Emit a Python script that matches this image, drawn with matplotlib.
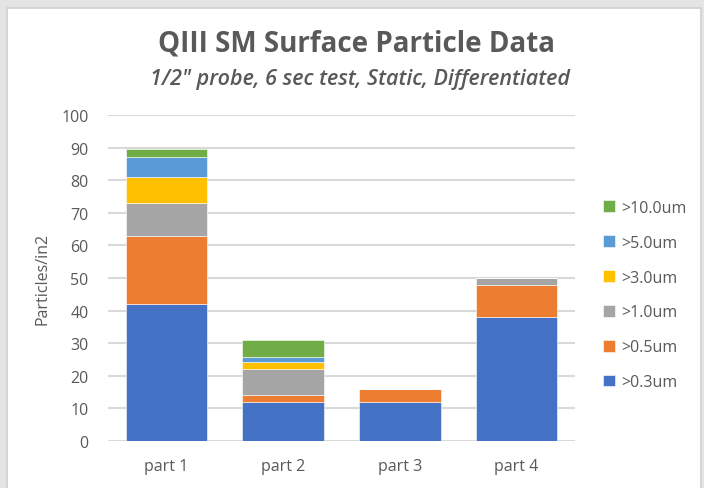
import matplotlib
matplotlib.use("Agg")
import matplotlib.pyplot as plt
from matplotlib.patches import Rectangle
import numpy as np

parts = ["part 1", "part 2", "part 3", "part 4"]
sizes = [">0.3um", ">0.5um", ">1.0um", ">3.0um", ">5.0um", ">10.0um"]
# differentiated counts per size bin (stacked bottom -> top)
p03 = [42, 12, 12, 38]
p05 = [21, 2, 4, 10]
p10 = [10, 8, 0, 2]
p30 = [8, 2.3, 0, 0]
p50 = [6, 1.6, 0, 0]
p100 = [2.5, 5, 0, 0]
colors = ["#4472C4", "#ED7D31", "#A5A5A5", "#FFC000", "#5B9BD5", "#70AD47"]
yticks = np.arange(0, 101, 10)

grey = "#595959"
plt.rcParams["font.family"] = ["Open Sans", "DejaVu Sans"]

fig = plt.figure(figsize=(7.04, 4.89), dpi=100)
fig.patch.set_facecolor("#e4e4e4")
fig.patches.append(Rectangle((7 / 704, -0.01), 694 / 704, 480 / 489 + 0.01, transform=fig.transFigure,
                             facecolor="white", edgecolor="#d0d0d0", linewidth=1.2, zorder=-5))

ax = fig.add_axes([108 / 704, 47 / 489, 467 / 704, 326 / 489])
ax.set_facecolor("white")

x = np.arange(len(parts))
bottom = np.zeros(len(parts))
for label, vals, c in zip(sizes, [p03, p05, p10, p30, p50, p100], colors):
    ax.bar(x, vals, width=0.70, bottom=bottom, color=c, label=label,
           edgecolor="white", linewidth=0.4, zorder=3)
    bottom += np.array(vals)

ax.set_xlim(-0.5, 3.5)
ax.set_ylim(0, 100)
ax.set_yticks(yticks)
ax.set_xticks(x)
ax.set_xticklabels(parts)
ax.grid(axis="y", color="#d9d9d9", linewidth=1.5, zorder=0)
ax.set_axisbelow(True)
for s in ax.spines.values():
    s.set_visible(False)
ax.tick_params(axis="both", length=0, labelsize=11.5, colors=grey)
ax.tick_params(axis="y", pad=14)
ax.tick_params(axis="x", pad=12)
ax.set_ylabel("Particles/in2", fontsize=11.5, color=grey, labelpad=8)

handles, labels = ax.get_legend_handles_labels()
leg = fig.legend(handles[::-1], labels[::-1], loc="center left",
                 bbox_to_anchor=(589 / 704, 1 - 296 / 489), frameon=False,
                 fontsize=11.5, labelcolor=grey, handlelength=0.75, handleheight=0.75,
                 handletextpad=0.35, labelspacing=1.18)

fig.text(357 / 704, 1 - 44 / 489, "QIII SM Surface Particle Data", ha="center", va="center",
         fontsize=20, fontweight="bold", color=grey)
fig.text(360 / 704, 1 - 80 / 489, "1/2\" probe, 6 sec test, Static, Differentiated",
         ha="center", va="center", fontsize=15.5, fontstyle="italic", fontweight="semibold", color=grey)

fig.savefig("out.png", dpi=100)
